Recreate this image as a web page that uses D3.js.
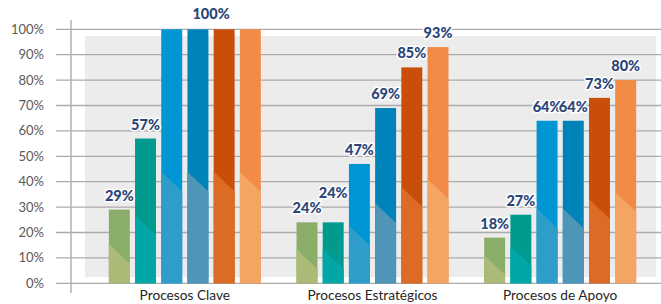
<!DOCTYPE html>
<html>
<head>
<meta charset="utf-8">
<script src="https://cdn.jsdelivr.net/npm/d3@7"></script>
<style>
  html, body { margin: 0; padding: 0; background: #ffffff; }
  svg { display: block; }
  .tick-label { font-family: Lato, "Open Sans", sans-serif; font-size: 13px; fill: #595959; }
  .cat-label { font-family: Lato, "Open Sans", sans-serif; font-size: 13.7px; fill: #262626; }
  .val-label { font-family: Lato, "Open Sans", sans-serif; font-size: 14.5px; font-weight: 900; fill: #2b4577;
               stroke: #ffffff; stroke-width: 3px; stroke-linejoin: round; paint-order: stroke; }
</style>
</head>
<body>
<div id="chart"></div>
<script>
// data
const categories = ["Procesos Clave", "Procesos Estratégicos", "Procesos de Apoyo"];
const seriesNames = ["Serie 1", "Serie 2", "Serie 3", "Serie 4", "Serie 5", "Serie 6"];
const valuesClave       = [0.29, 0.57, 1.00, 1.00, 1.00, 1.00];
const valuesEstrategicos = [0.24, 0.24, 0.47, 0.69, 0.85, 0.93];
const valuesApoyo       = [0.18, 0.27, 0.64, 0.64, 0.73, 0.80];
const yTicks = [0, 0.1, 0.2, 0.3, 0.4, 0.5, 0.6, 0.7, 0.8, 0.9, 1.0];

// colours per series: top part and lighter bottom part
const topColors    = ["#8bad6a", "#009a8e", "#0096d6", "#0083b9", "#c94e0a", "#f28b45"];
const bottomColors = ["#abbb77", "#00a7a6", "#2f9dc9", "#4f95b7", "#dc6b25", "#f4a463"];

// the one label that is pushed up to avoid its neighbour
const liftedLabels = [["Procesos Estratégicos", 1]];

const width = 661, height = 304;
const groupValues = [valuesClave, valuesEstrategicos, valuesApoyo];
const fmt = d3.format(".0%");

let svg = d3.select("#chart")
    .append("svg")
    .attr("width", width)
    .attr("height", height);

let y = d3.scaleLinear().domain([0, 1]).range([283.3, 29.3]);
let x0 = d3.scaleBand().domain(categories).range([91, 654]).paddingInner(0);
let x1 = d3.scaleBand().domain(seriesNames).range([0, 152]).paddingInner(0.2);

// gray plot background
svg.append("rect")
    .attr("x", 85).attr("y", 36)
    .attr("width", 571).attr("height", 241)
    .style("fill", "#ececec");

// gridlines
svg.append("g")
    .selectAll("line")
    .data(yTicks)
    .enter()
    .append("line")
    .attr("x1", 56).attr("x2", width)
    .attr("y1", d => y(d)).attr("y2", d => y(d))
    .style("stroke", "#ababab")
    .style("stroke-width", 1.3);

// vertical axis line
svg.append("line")
    .attr("x1", 71).attr("x2", 71)
    .attr("y1", 20).attr("y2", 293)
    .style("stroke", "#b0b0b0")
    .style("stroke-width", 1.5);

// tick labels
svg.append("g")
    .selectAll("text")
    .data(yTicks)
    .enter()
    .append("text")
    .attr("class", "tick-label")
    .attr("x", 44)
    .attr("y", d => y(d))
    .attr("dy", "0.35em")
    .attr("text-anchor", "end")
    .text(d => fmt(d));

// bars
let bars = [];
categories.forEach(function (c, gi) {
    seriesNames.forEach(function (s, si) {
        bars.push({cat: c, series: s, si: si, value: groupValues[gi][si]});
    });
});

const groupStart = c => x0(c) + x0.bandwidth() / 2 - 76;

let barG = svg.append("g")
    .selectAll("g")
    .data(bars)
    .enter()
    .append("g");

barG.append("rect")
    .attr("x", d => groupStart(d.cat) + x1(d.series))
    .attr("y", d => y(d.value))
    .attr("width", x1.bandwidth())
    .attr("height", d => y(0) - y(d.value))
    .style("fill", d => topColors[d.si]);

// lighter lower part with a diagonal edge
barG.append("polygon")
    .attr("points", function (d) {
        let bx = groupStart(d.cat) + x1(d.series);
        let w = x1.bandwidth();
        let y0 = y(0);
        let split = y0 - 0.4 * (y0 - y(d.value));
        let drop = w * 0.47;
        return [[bx, split - drop], [bx + w, split + drop], [bx + w, y0], [bx, y0]]
            .map(p => p.join(",")).join(" ");
    })
    .style("fill", d => bottomColors[d.si]);

// value labels: runs of 3+ equal values get one shared label
let labels = [];
categories.forEach(function (c, gi) {
    let vals = groupValues[gi];
    let i = 0;
    while (i < vals.length) {
        let j = i;
        while (j + 1 < vals.length && vals[j + 1] === vals[i]) j++;
        let runLen = j - i + 1;
        if (runLen >= 3) {
            let xa = groupStart(c) + x1(seriesNames[i]);
            let xb = groupStart(c) + x1(seriesNames[j]) + x1.bandwidth();
            labels.push({x: (xa + xb) / 2, value: vals[i], lift: 1});
        } else {
            for (let k = i; k <= j; k++) {
                let lifted = liftedLabels.some(l => l[0] === c && l[1] === k);
                labels.push({
                    x: groupStart(c) + x1(seriesNames[k]) + x1.bandwidth() / 2,
                    value: vals[k],
                    lift: lifted ? 15 : 0
                });
            }
        }
        i = j + 1;
    }
});

svg.append("g")
    .selectAll("text")
    .data(labels)
    .enter()
    .append("text")
    .attr("class", "val-label")
    .attr("x", d => d.x)
    .attr("y", d => y(d.value) - 9 - d.lift)
    .attr("text-anchor", "middle")
    .text(d => fmt(d.value));

// category labels
svg.append("g")
    .selectAll("text")
    .data(categories)
    .enter()
    .append("text")
    .attr("class", "cat-label")
    .attr("x", d => x0(d) + x0.bandwidth() / 2)
    .attr("y", 300)
    .attr("text-anchor", "middle")
    .text(d => d);
</script>
</body>
</html>
